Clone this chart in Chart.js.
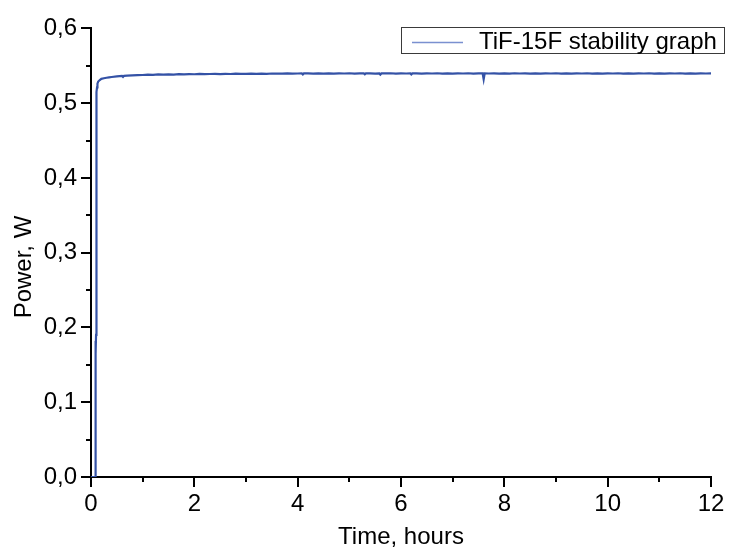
<!DOCTYPE html>
<html>
<head>
<meta charset="utf-8">
<script src="https://cdn.jsdelivr.net/npm/chart.js@4.4.1/dist/chart.umd.min.js"></script>
<style>
  html, body { margin: 0; padding: 0; background: #ffffff; }
  #wrap { width: 740px; height: 552px; }
</style>
</head>
<body>
<div id="wrap"><canvas id="c" width="740" height="552"></canvas></div>
<script>
const seriesLabel = "TiF-15F stability graph";
const xTitle = "Time, hours";
const yTitle = "Power, W";

const xMajorTicks = [0, 2, 4, 6, 8, 10, 12];
const xMinorTicks = [1, 3, 5, 7, 9, 11];
const yMajorTicks = [0, 0.1, 0.2, 0.3, 0.4, 0.5, 0.6];
const yMinorTicks = [0.05, 0.15, 0.25, 0.35, 0.45, 0.55];

const timeHours = [
  0, 0.03, 0.06, 0.08, 0.083, 0.086, 0.089, 0.092, 0.095, 0.098, 0.101, 0.104,
  0.107, 0.112, 0.117, 0.125, 0.14, 0.17, 0.2, 0.25, 0.3, 0.35, 0.4, 0.5, 0.6, 0.62, 0.64, 0.7, 0.8, 0.9, 1.0,
  1.1, 1.2, 1.3, 1.4, 1.5, 1.6, 1.7, 1.8, 1.9, 2.0,
  2.1, 2.2, 2.3, 2.4, 2.5, 2.6, 2.7, 2.8, 2.9, 3.0,
  3.1, 3.2, 3.3, 3.4, 3.5, 3.6, 3.7, 3.8, 3.9, 4.0,
  4.08, 4.1, 4.12, 4.2, 4.3, 4.4, 4.5, 4.6, 4.7, 4.8, 4.9, 5.0,
  5.1, 5.2, 5.28, 5.3, 5.32, 5.4, 5.5, 5.58, 5.6, 5.62, 5.7, 5.8, 5.9, 6.0,
  6.1, 6.18, 6.2, 6.22, 6.3, 6.4, 6.5, 6.6, 6.7, 6.8, 6.9, 7.0,
  7.1, 7.2, 7.3, 7.4, 7.5, 7.58, 7.6, 7.62, 7.7, 7.8, 7.9, 8.0,
  8.1, 8.2, 8.3, 8.4, 8.5, 8.6, 8.7, 8.8, 8.9, 9.0,
  9.1, 9.2, 9.3, 9.4, 9.5, 9.6, 9.7, 9.8, 9.9, 10.0,
  10.1, 10.2, 10.3, 10.4, 10.5, 10.6, 10.7, 10.8, 10.9, 11.0,
  11.1, 11.2, 11.3, 11.4, 11.5, 11.6, 11.7, 11.8, 11.9, 12.0
];

const powerW = [
  0, 0, 0, 0, 0.125, 0.17, 0.128, 0.182, 0.165, 0.19, 0.35, 0.49,
  0.505, 0.515, 0.521, 0.526, 0.529, 0.531, 0.5325, 0.5333, 0.534, 0.5345, 0.535, 0.5358, 0.5365, 0.5352, 0.5366, 0.5368, 0.5372, 0.5375, 0.5377,
  0.5381, 0.5379, 0.5384, 0.5382, 0.5386, 0.5383, 0.5388, 0.5385, 0.5389, 0.5387,
  0.5391, 0.5388, 0.5390, 0.5393, 0.5389, 0.5392, 0.5390, 0.5394, 0.5391, 0.5393,
  0.5396, 0.5392, 0.5395, 0.5393, 0.5397, 0.5394, 0.5396, 0.5399, 0.5395, 0.5397,
  0.5398, 0.5384, 0.5398, 0.5398, 0.5395, 0.5399, 0.5396, 0.5398, 0.5394, 0.5399, 0.5397, 0.5400,
  0.5396, 0.5399, 0.5398, 0.5386, 0.5398, 0.5398, 0.5396, 0.5398, 0.5382, 0.5398, 0.5398, 0.5400, 0.5396, 0.5399,
  0.5397, 0.5398, 0.5385, 0.5398, 0.5398, 0.5395, 0.5399, 0.5397, 0.5400, 0.5396, 0.5398, 0.5395,
  0.5399, 0.5397, 0.5400, 0.5396, 0.5398, 0.5398, 0.5318, 0.5398, 0.5397, 0.5399, 0.5395, 0.5398,
  0.5396, 0.5400, 0.5397, 0.5399, 0.5395, 0.5398, 0.5396, 0.5399, 0.5397, 0.5400,
  0.5396, 0.5398, 0.5395, 0.5399, 0.5397, 0.5400, 0.5396, 0.5398, 0.5395, 0.5399,
  0.5397, 0.5400, 0.5396, 0.5398, 0.5395, 0.5399, 0.5397, 0.5400, 0.5396, 0.5398,
  0.5396, 0.5399, 0.5397, 0.5400, 0.5396, 0.5398, 0.5395, 0.5399, 0.5397, 0.5398
];

const FONT = "'Liberation Sans', Arial, sans-serif";

const decorPlugin = {
  id: 'decor',
  afterDraw(chart) {
    const { ctx, chartArea: a, scales: { x, y } } = chart;
    ctx.save();
    // tick marks
    ctx.strokeStyle = '#000';
    ctx.lineWidth = 2;
    ctx.beginPath();
    xMajorTicks.forEach(v => { const p = Math.round(x.getPixelForValue(v)); ctx.moveTo(p, a.bottom); ctx.lineTo(p, a.bottom + 10); });
    xMinorTicks.forEach(v => { const p = Math.round(x.getPixelForValue(v)); ctx.moveTo(p, a.bottom); ctx.lineTo(p, a.bottom + 5); });
    yMajorTicks.forEach(v => { const p = Math.round(y.getPixelForValue(v)); ctx.moveTo(a.left, p); ctx.lineTo(a.left - 10, p); });
    yMinorTicks.forEach(v => { const p = Math.round(y.getPixelForValue(v)); ctx.moveTo(a.left, p); ctx.lineTo(a.left - 5, p); });
    ctx.stroke();

    // axis titles
    ctx.fillStyle = '#000';
    ctx.font = '24px ' + FONT;
    ctx.textAlign = 'center';
    ctx.textBaseline = 'alphabetic';
    ctx.fillText(xTitle, (a.left + a.right) / 2, 544);
    ctx.save();
    ctx.translate(31, 267);
    ctx.rotate(-Math.PI / 2);
    ctx.fillText(yTitle, 0, 0);
    ctx.restore();

    // legend box
    ctx.strokeStyle = '#3a3a3a';
    ctx.lineWidth = 1;
    ctx.fillStyle = '#ffffff';
    ctx.fillRect(401.5, 27.5, 323, 26);
    ctx.strokeRect(401.5, 27.5, 323, 26);
    ctx.strokeStyle = '#7a90d0';
    ctx.lineWidth = 1.5;
    ctx.beginPath();
    ctx.moveTo(412, 42.5);
    ctx.lineTo(463, 42.5);
    ctx.stroke();
    ctx.fillStyle = '#000';
    ctx.textAlign = 'left';
    ctx.font = '24px ' + FONT;
    ctx.fillText(chart.data.datasets[0].label, 479, 48.5);
    ctx.restore();
  }
};

new Chart(document.getElementById('c'), {
  type: 'line',
  data: {
    datasets: [{
      label: seriesLabel,
      data: timeHours.map((t, i) => ({ x: t, y: powerW[i] })),
      borderColor: '#3452a6',
      borderWidth: 2.2,
      pointRadius: 0,
      tension: 0,
      fill: false
    }]
  },
  options: {
    responsive: false,
    animation: false,
    devicePixelRatio: 1,
    layout: { padding: { top: 20, right: 29, left: 0, bottom: 0 } },
    plugins: { legend: { display: false }, tooltip: { enabled: false } },
    scales: {
      x: {
        type: 'linear',
        min: 0, max: 12,
        afterFit(s) { s.height = 75; },
        grid: { display: false, drawTicks: false },
        border: { display: true, color: '#000', width: 2 },
        ticks: {
          stepSize: 2, autoSkip: false, maxRotation: 0, padding: 13,
          color: '#000', font: { family: FONT, size: 24 },
          callback: v => String(v)
        }
      },
      y: {
        type: 'linear',
        min: 0, max: 0.6,
        afterFit(s) { s.width = 91; },
        grid: { display: false, drawTicks: false },
        border: { display: true, color: '#000', width: 2 },
        ticks: {
          stepSize: 0.1, autoSkip: false, padding: 14,
          color: '#000', font: { family: FONT, size: 24 },
          callback: v => (Math.round(v * 10) / 10).toFixed(1).replace('.', ',')
        }
      }
    }
  },
  plugins: [decorPlugin]
});
</script>
</body>
</html>
